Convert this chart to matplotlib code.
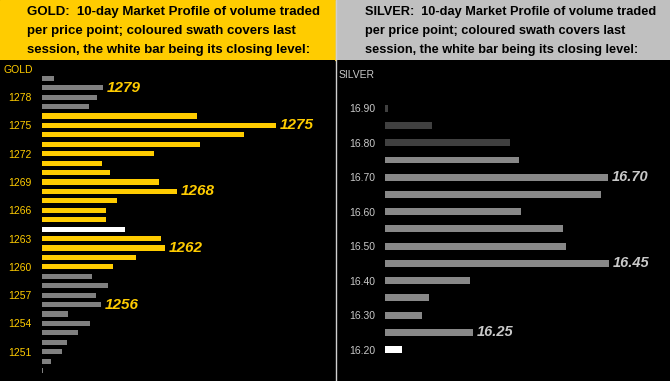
import numpy as np
import matplotlib
matplotlib.use("Agg")
import matplotlib.pyplot as plt
from matplotlib.patches import Rectangle

# ---- data ----
gold_prices = list(range(1280, 1248, -1))
gold_volume = [12, 61, 55, 47, 155, 234, 202, 158, 112, 60, 68, 117, 135, 75, 64,
               64, 83, 119, 123, 94, 71, 50, 66, 54, 59, 26, 48, 36, 25, 20, 9, 1]
gold_session = (1260, 1276)
gold_close = 1264
gold_ticks = list(range(1278, 1250, -3))
gold_labels = [1279, 1275, 1268, 1262, 1256]

silver_prices = [16.90, 16.85, 16.80, 16.75, 16.70, 16.65, 16.60, 16.55,
                 16.50, 16.45, 16.40, 16.35, 16.30, 16.25, 16.20]
silver_volume = [3, 47, 125, 134, 223, 216, 136, 178, 181, 224, 85, 44, 37, 88, 17]
silver_session = (16.20, 16.75)
silver_close = 16.20
silver_ticks = [16.90, 16.80, 16.70, 16.60, 16.50, 16.40, 16.30, 16.20]
silver_labels = [16.70, 16.45, 16.25]

GOLD = "#FFCC00"
SILVER_HDR = "#C0C0C0"

W, H = 670, 381
fig = plt.figure(figsize=(W / 100, H / 100), dpi=100)
fig.patch.set_facecolor("black")

hdr_h = 60


def px_axes(x0, y0, w, h):
    return fig.add_axes([x0 / W, 1 - (y0 + h) / H, w / W, h / H])


def panel(x0, w, prices, volume, session, close, in_col, out_col, lab_col,
          ticks, tick_fmt, labels, lab_fmt, lab_size, name, name_y,
          ylim, xlim, height, pad, name_x):
    ax = px_axes(x0, hdr_h, w, H - hdr_h)
    ax.set_facecolor("black")
    cols = []
    for p in prices:
        if abs(p - close) < 1e-9:
            cols.append("white")
        elif session[0] - 1e-9 <= p <= session[1] + 1e-9:
            cols.append(in_col)
        else:
            cols.append(out_col)
    ax.barh(prices, volume, height=height, color=cols, left=0)
    for p in labels:
        v = volume[[abs(q - p) < 1e-9 for q in prices].index(True)]
        ax.annotate(lab_fmt.format(p), (v, p), xytext=(3, 0),
                    textcoords="offset points", va="center", ha="left",
                    color=lab_col, fontsize=lab_size, fontweight="bold",
                    fontstyle="italic", family="Liberation Sans")
    ax.set_ylim(*ylim)
    ax.set_xlim(*xlim)
    ax.set_yticks(ticks)
    ax.set_yticklabels([tick_fmt.format(t) for t in ticks])
    ax.tick_params(axis="y", length=0, pad=pad, labelsize=7.5,
                   labelcolor=lab_col if name == "GOLD" else "#C8C8C8")
    for t in ax.get_yticklabels():
        t.set_family("Liberation Sans")
    ax.set_xticks([])
    for s in ax.spines.values():
        s.set_visible(False)
    ax.text(name_x, name_y, name, transform=ax.transAxes, ha="left",
            va="center", fontsize=7.5, family="Liberation Sans",
            color=GOLD if name == "GOLD" else "#C8C8C8")
    return ax


panel(0, 335, gold_prices, gold_volume, gold_session, gold_close,
      GOLD, "#808080", GOLD, gold_ticks, "{:d}", gold_labels, "{:d}", 11,
      "GOLD", 1 - 10 / 321, (1247.9, 1281.94), (-42, 293), 0.55, -23, 4 / 335)

panel(336, 334, silver_prices, silver_volume, silver_session, silver_close,
      "#888888", "#404040", "#C8C8C8", silver_ticks, "{:.2f}", silver_labels,
      "{:.2f}", 10.5, "SILVER", 1 - 15 / 321, (16.109, 17.040), (-49, 285),
      0.02, -28.5, 3 / 334)

# headers
hdr = fig.add_axes([0, 0, 1, 1], zorder=-1)
hdr.set_xlim(0, W)
hdr.set_ylim(H, 0)
hdr.axis("off")
hdr.add_patch(Rectangle((0, 0), 335, hdr_h, color=GOLD))
hdr.add_patch(Rectangle((336, 0), W - 336, hdr_h, color=SILVER_HDR))
top = fig.add_axes([0, 0, 1, 1], zorder=5)
top.set_xlim(0, W)
top.set_ylim(H, 0)
top.axis("off")
top.plot([335.5, 335.5], [0, H], color="#D0D0D0", lw=1)

gold_hdr = ["GOLD:  10-day Market Profile of volume traded",
            "per price point; coloured swath covers last",
            "session, the white bar being its closing level:"]
silver_hdr = ["SILVER:  10-day Market Profile of volume traded",
              "per price point; coloured swath covers last",
              "session, the white bar being its closing level:"]
for i, (g, s) in enumerate(zip(gold_hdr, silver_hdr)):
    y = 12 + 19 * i
    top.text(27, y, g, ha="left", va="center", fontsize=9.5, fontweight="bold",
             family="Liberation Sans", color="black")
    top.text(365, y, s, ha="left", va="center", fontsize=9.2, fontweight="bold",
             family="Liberation Sans", color="black")

fig.savefig("out.png", dpi=100, facecolor="black")
